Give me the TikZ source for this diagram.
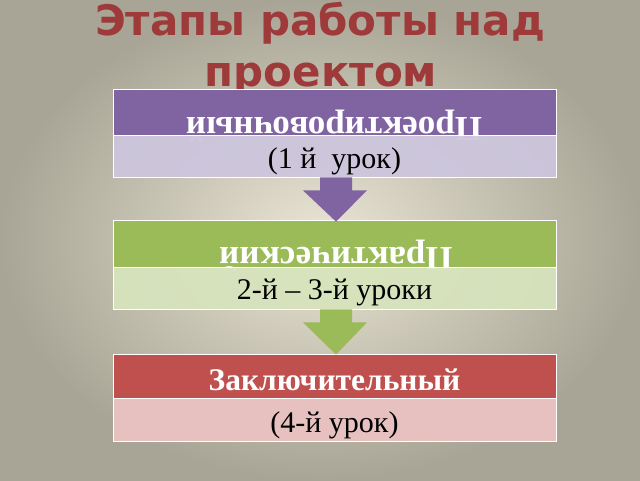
\documentclass[tikz,border=0pt]{standalone}
\usepackage{fontspec}
\setmainfont{Liberation Serif}
\newfontfamily\titlefont{DejaVu Sans}
\usetikzlibrary{calc}
\definecolor{bgin}{HTML}{EAE5D4}
\definecolor{bgout}{HTML}{A8A596}
\definecolor{titlered}{HTML}{9E3A3A}
\definecolor{purpleH}{HTML}{8064A2}
\definecolor{purpleL}{HTML}{CDC6DE}
\definecolor{greenH}{HTML}{9BBB59}
\definecolor{greenL}{HTML}{D7E4BD}
\definecolor{redH}{HTML}{C0504D}
\definecolor{redL}{HTML}{E6C1C0}
\tikzset{
  headbox/.style={draw=white, line width=0.8pt, minimum width=443pt, inner sep=0pt},
  lowbox/.style={draw=white, line width=0.8pt, minimum width=443pt, inner sep=0pt},
  lowtext/.style={font=\fontsize{30}{32}\selectfont, text=black, inner sep=0pt, anchor=base},
  headtext/.style={font=\fontsize{35}{37}\selectfont\bfseries, text=white, inner sep=0pt, anchor=base},
  headtextB/.style={font=\fontsize{31.5}{33}\selectfont\bfseries, text=white, inner sep=0pt, anchor=base},
  titletext/.style={font=\titlefont\bfseries\fontsize{42}{51}\selectfont, text=titlered, inner sep=0pt, anchor=base}
}
\begin{document}
\begin{tikzpicture}[x=1pt,y=-1pt]
\useasboundingbox (0,0) rectangle (640,480);
\shade[inner color=bgin, outer color=bgout] (0,0) rectangle (640,480);
% title
\node[titletext] (t1) at (320,35) {Этапы работы над};
\node[titletext] (t2) at (321,86) {проектом};
% stage 1
\node[headbox, fill=purpleH, minimum height=46pt] (h1) at (334.5,112) {};
\node[headtext, rotate=180] (r1) at (334,117) {Проектировочный};
\node[lowbox, fill=purpleL, fill opacity=0.93, draw opacity=1, minimum height=42pt] (l1) at (334.5,156) {};
\node[lowtext] (x1) at (334.5,168) {(1 й\ \ урок)};
% stage 2
\node[headbox, fill=greenH, minimum height=47pt] (h2) at (334.5,243.5) {};
\node[headtext, rotate=180] (r2) at (336,247) {Практический};
\node[lowbox, fill=greenL, fill opacity=0.93, draw opacity=1, minimum height=42pt] (l2) at (334.5,288) {};
\node[lowtext] (x2) at (334.5,299) {2-й – 3-й уроки};
% stage 3
\node[headbox, fill=redH, minimum height=44pt] (h3) at (334.5,376) {};
\node[headtextB] (r3) at (334.5,390) {Заключительный};
\node[lowbox, fill=redL, minimum height=43pt] (l3) at (334.5,419.5) {};
\node[lowtext] (x3) at (334.5,432) {(4-й урок)};
% arrows
\fill[purpleH] ($(l1.south)+(-14.5,0)$) -- ($(l1.south)+(-14.5,13)$) -- ($(l1.south)+(-31.5,13)$)
  -- ($(h2.north)+(1.5,2)$) -- ($(l1.south)+(32.5,13)$) -- ($(l1.south)+(17.5,13)$) -- ($(l1.south)+(17.5,0)$) -- cycle;
\fill[greenH] ($(l2.south)+(-14.5,0)$) -- ($(l2.south)+(-14.5,13)$) -- ($(l2.south)+(-31.5,13)$)
  -- ($(h3.north)+(1.5,1)$) -- ($(l2.south)+(32.5,13)$) -- ($(l2.south)+(17.5,13)$) -- ($(l2.south)+(17.5,0)$) -- cycle;
\end{tikzpicture}
\end{document}
